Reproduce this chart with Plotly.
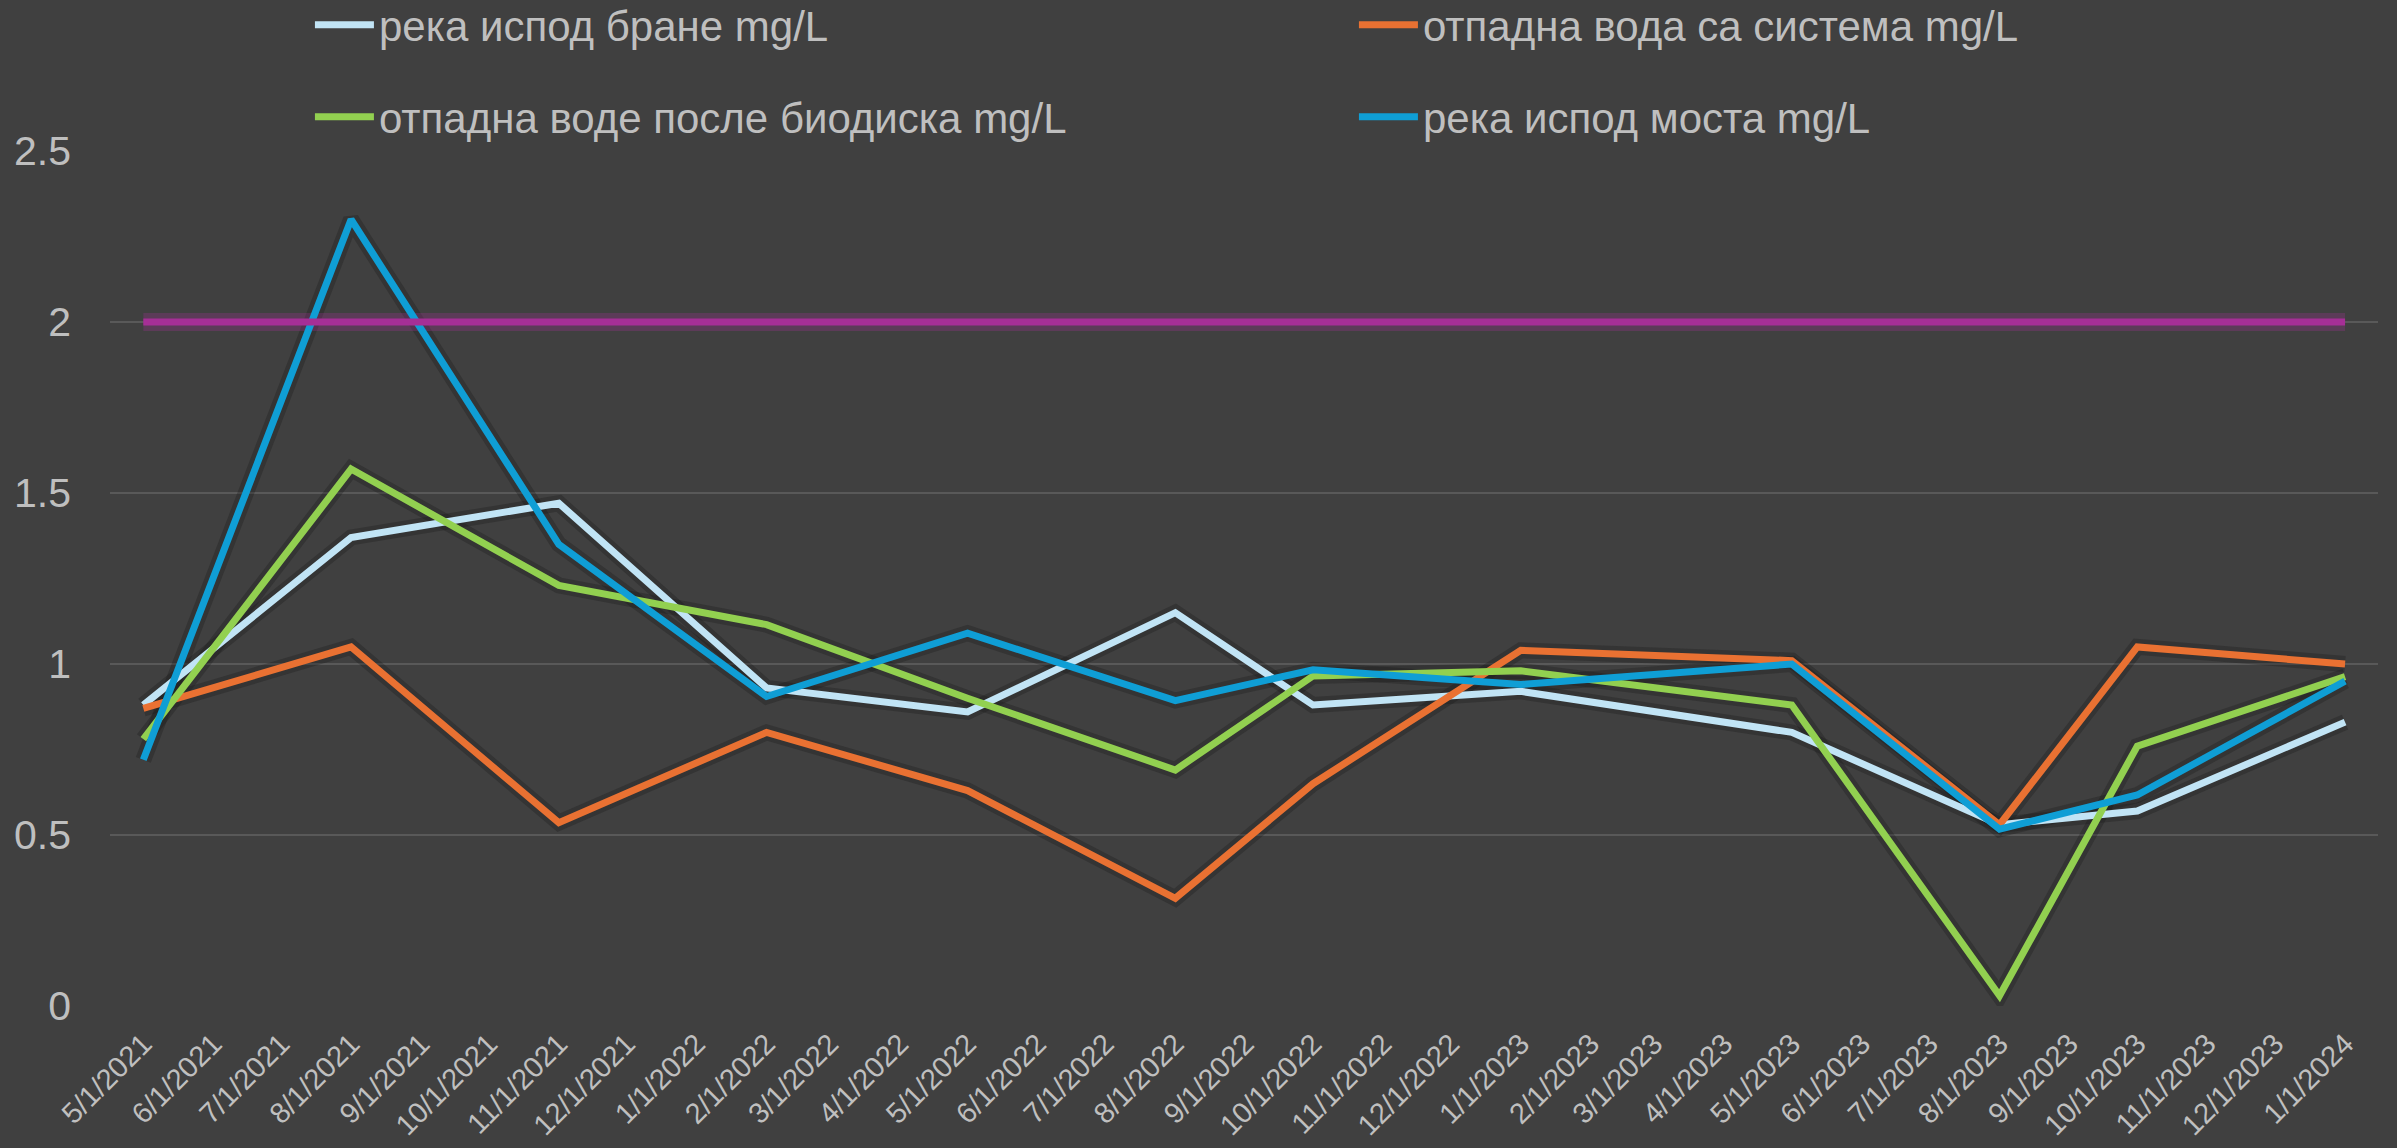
import plotly.graph_objects as go

dates = ["2021-05-01", "2021-08-01", "2021-11-01", "2022-02-01", "2022-05-01", "2022-08-01",
         "2022-10-01", "2023-01-01", "2023-05-01", "2023-08-01", "2023-10-01", "2024-01-01"]

reka_ispod_brane = [0.88, 1.37, 1.47, 0.93, 0.86, 1.15, 0.88, 0.92, 0.80, 0.53, 0.57, 0.83]
otpadna_sistema = [0.87, 1.05, 0.536, 0.80, 0.63, 0.315, 0.65, 1.04, 1.01, 0.53, 1.05, 1.00]
otpadna_biodisk = [0.78, 1.57, 1.23, 1.115, 0.90, 0.69, 0.965, 0.98, 0.88, 0.03, 0.76, 0.963]
reka_ispod_mosta = [0.72, 2.30, 1.35, 0.905, 1.09, 0.893, 0.983, 0.94, 1.00, 0.517, 0.617, 0.95]
granica = [2.0, 2.0, 2.0, 2.0, 2.0, 2.0, 2.0, 2.0, 2.0, 2.0, 2.0, 2.0]

names = ["река испод бране mg/L", "отпадна вода са система mg/L",
         "отпадна воде после биодиска mg/L", "река испод моста mg/L"]
colors = ["#C1E4F5", "#E97132", "#92D050", "#0F9ED5"]
series = [reka_ispod_brane, otpadna_sistema, otpadna_biodisk, reka_ispod_mosta]
legend_ids = ["legend", "legend", "legend2", "legend2"]
limit_color = "#A62F96"

fig = go.Figure()

# soft shadows
for vals in series:
    fig.add_trace(go.Scatter(x=dates, y=vals, mode="lines",
                             line=dict(color="rgba(20,20,20,0.28)", width=16),
                             showlegend=False, hoverinfo="skip"))
fig.add_trace(go.Scatter(x=dates, y=granica, mode="lines",
                         line=dict(color="rgba(166,47,150,0.28)", width=18),
                         showlegend=False, hoverinfo="skip"))

for name, vals, col, lg in zip(names, series, colors, legend_ids):
    fig.add_trace(go.Scatter(x=dates, y=vals, mode="lines", name=name,
                             line=dict(color=col, width=7), legend=lg))

fig.add_trace(go.Scatter(x=dates, y=granica, mode="lines", name="граница",
                         line=dict(color=limit_color, width=7), showlegend=False))

txt = "#BFBFBF"
font_family = "Liberation Sans, Arial, sans-serif"

legend_common = dict(orientation="h", xref="container", yref="container",
                     xanchor="left", yanchor="middle",
                     entrywidth=970, entrywidthmode="pixels",
                     font=dict(size=42, color=txt), bgcolor="rgba(0,0,0,0)",
                     itemwidth=59)

fig.update_layout(
    width=2397, height=1148,
    paper_bgcolor="#404040", plot_bgcolor="#404040",
    margin=dict(l=110, r=19, t=151, b=142, autoexpand=False),
    font=dict(family=font_family, color=txt),
    legend=dict(x=0.1293, y=1 - 25 / 1148, **legend_common),
    legend2=dict(x=0.1293, y=1 - 117 / 1148, **legend_common),
    xaxis=dict(type="date", range=["2021-04-16 06:00", "2024-01-15 14:00"],
               dtick="M1", tick0="2021-05-01", tickformat="%-m/%-d/%Y",
               tickangle=-45, showgrid=False, zeroline=False, showline=False,
               ticks="", ticklabelstandoff=14, automargin=False,
               tickfont=dict(size=29, color=txt, family=font_family)),
    yaxis=dict(range=[0, 2.5], dtick=0.5, tick0=0, showgrid=True,
               gridcolor="#595959", gridwidth=2,
               zeroline=True, zerolinecolor="#404040", zerolinewidth=3,
               showline=False, ticks="", ticklabelstandoff=38, automargin=False,
               tickfont=dict(size=41, color=txt, family=font_family)),
)

fig.write_html("out.html",
               config={"displayModeBar": False},
               post_script="document.body.style.margin='0';"
                           "document.body.style.background='#404040';")
